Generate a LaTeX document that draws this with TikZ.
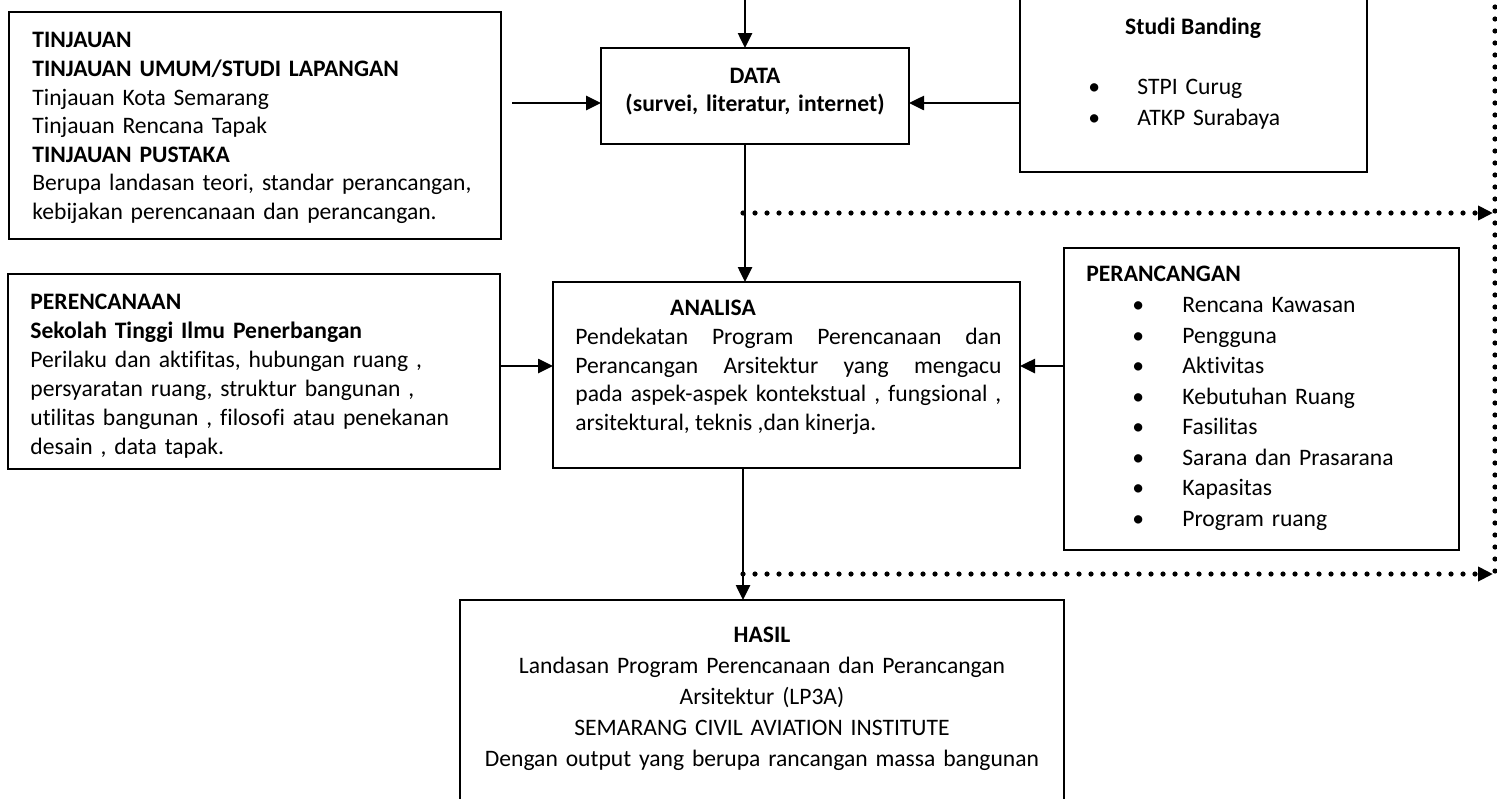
\documentclass[tikz,border=0pt]{standalone}
\usepackage{fontspec}
\setmainfont{Carlito}[Ligatures=CommonOff]
\usetikzlibrary{arrows.meta,calc}
\begin{document}
\begin{tikzpicture}[x=0.5pt,y=-0.5pt,
  box/.style={draw, line width=1.2pt, anchor=north west, inner sep=0pt, outer sep=0pt},
  txt/.style={inner sep=0pt, anchor=north west, align=left},
  arr/.style={line width=1.3pt, -{Triangle[length=7.5pt,width=7pt]}},
  dots/.style={line width=2.6pt, line cap=round, dash pattern=on 0pt off 6pt},
  dotarr/.style={dots, -{Triangle[length=7.5pt,width=7pt]}}]
\frenchspacing
\useasboundingbox (0,0) rectangle (1497,798);
\clip (0,0) rectangle (1497,798);
% boxes
\node[box, minimum width=246pt, minimum height=113.5pt] (tinj) at (9,12) {};
\node[box, minimum width=154pt, minimum height=48pt] (data) at (601,48) {};
\node[box, minimum width=173.5pt, minimum height=91pt] (studi) at (1020,-10) {};
\node[box, minimum width=246pt, minimum height=97.5pt] (pere) at (8,274) {};
\node[box, minimum width=233.5pt, minimum height=93pt] (anal) at (553,282) {};
\node[box, minimum width=197.5pt, minimum height=151pt] (peran) at (1064,248) {};
\node[box, minimum width=302pt, minimum height=105pt] (hasil) at (460,600) {};
% texts
\node[txt, text width=230pt, font=\fontsize{11.8}{14.3}\selectfont] (tinjtext) at (32,27.5) {\strut\textbf{TINJAUAN}\\
\textbf{TINJAUAN UMUM/STUDI LAPANGAN}\\
Tinjauan Kota Semarang\\
Tinjauan Rencana Tapak\\
\textbf{TINJAUAN PUSTAKA}\\
Berupa landasan teori, standar perancangan,\\
kebijakan perencanaan dan perancangan.};
\node[txt, anchor=north, align=center, text width=150pt, font=\fontsize{11.8}{14}\selectfont\bfseries] (datatext) at (755,63.9) {\strut DATA\\(survei, literatur, internet)};
\node[inner sep=0pt, anchor=base, font=\fontsize{11.8}{14}\selectfont\bfseries] (studititle) at (1193,34.5) {Studi Banding};
\node[txt, text width=150pt, font=\fontsize{11.8}{15.5}\selectfont] (studilist) at (1088,72.8) {\strut\makebox[24.5pt][l]{•}STPI Curug\\
\makebox[24.5pt][l]{•}ATKP Surabaya};
\node[txt, text width=235pt, font=\fontsize{11.8}{14.5}\selectfont] (peretext) at (30,289.2) {\strut\textbf{PERENCANAAN}\\
\textbf{Sekolah Tinggi Ilmu Penerbangan}\\
Perilaku dan aktifitas, hubungan ruang ,\\
persyaratan ruang, struktur bangunan ,\\
utilitas bangunan , filosofi atau penekanan\\
desain , data tapak.};
\node[inner sep=0pt, anchor=base, font=\fontsize{11.8}{14}\selectfont\bfseries] (analtitle) at (713,315.5) {ANALISA};
\node[txt, align=justify, text width=213pt, font=\fontsize{11.8}{14.25}\selectfont] (analtext) at (575,324.5) {\hyphenpenalty=10000\exhyphenpenalty=10000\strut Pendekatan Program Perencanaan dan\linebreak
Perancangan Arsitektur yang mengacu\linebreak
pada aspek-aspek kontekstual , fungsional ,\linebreak
arsitektural, teknis ,dan kinerja.};
\node[inner sep=0pt, anchor=base west, font=\fontsize{11.8}{14}\selectfont\bfseries] (perantitle) at (1086,281.5) {PERANCANGAN};
\node[txt, text width=180pt, font=\fontsize{11.8}{15.25}\selectfont] (peranlist) at (1132,291.15) {\strut\makebox[25pt][l]{•}Rencana Kawasan\\
\makebox[25pt][l]{•}Pengguna\\
\makebox[25pt][l]{•}Aktivitas\\
\makebox[25pt][l]{•}Kebutuhan Ruang\\
\makebox[25pt][l]{•}Fasilitas\\
\makebox[25pt][l]{•}Sarana dan Prasarana\\
\makebox[25pt][l]{•}Kapasitas\\
\makebox[25pt][l]{•}Program ruang};
\node[txt, anchor=north, align=center, text width=295pt, font=\fontsize{11.8}{15.5}\selectfont] (hasiltext) at (762,620.8) {\strut\textbf{HASIL}\\
Landasan Program Perencanaan dan Perancangan\\
Arsitektur (LP3A)\\
SEMARANG CIVIL AVIATION INSTITUTE\\
Dengan output yang berupa rancangan massa bangunan};
% helper coordinates
\coordinate (topin) at (745,-5);
\coordinate (lin) at (512,103);
\coordinate (ay) at (0,366);
\coordinate (hx) at (743,0);
\coordinate (d1) at (743,213);
\coordinate (d2) at (1493,213);
\coordinate (d3) at (743,574);
\coordinate (d4) at (1493,574);
\coordinate (vtop) at (1495,-5);
\coordinate (vbot) at (1495,574);
% connectors
\draw[arr] (topin) -- (data.north -| topin);
\draw[arr] (lin) -- (lin -| data.west);
\draw[arr] (studi.west |- lin) -- (data.east |- lin);
\draw[arr] (data.south -| topin) -- (anal.north -| topin);
\draw[arr] (pere.east |- ay) -- (anal.west |- ay);
\draw[arr] (peran.west |- ay) -- (anal.east |- ay);
\draw[arr] (anal.south -| hx) -- (hasil.north -| hx);
\draw[dotarr] (d1) -- (d2);
\draw[dotarr] (d3) -- (d4);
\draw[dots] (vtop) -- (vbot);
\end{tikzpicture}
\end{document}
